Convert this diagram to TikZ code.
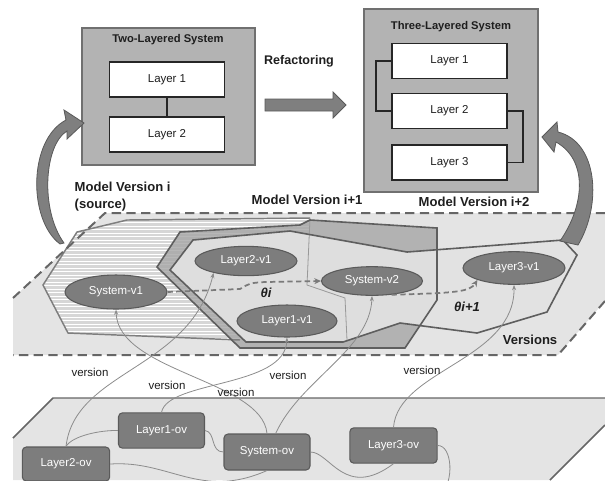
\documentclass[tikz,border=0pt]{standalone}
\usepackage{fontspec}
\setmainfont{Liberation Sans}
\usetikzlibrary{shapes.geometric,arrows.meta}
\definecolor{boxfill}{HTML}{B3B3B3}
\definecolor{boxline}{HTML}{707070}
\definecolor{planefill}{HTML}{E4E4E4}
\definecolor{planeline}{HTML}{666666}
\definecolor{hatchbg}{HTML}{D6D6D6}
\definecolor{bandfill}{HTML}{A6A6A6}
\definecolor{innerfill}{HTML}{E2E2E2}
\definecolor{polyline}{HTML}{5E5E5E}
\definecolor{ellfill}{HTML}{7D7D7D}
\definecolor{ellline}{HTML}{5A5A5A}
\definecolor{linkgray}{HTML}{8C8C8C}
\definecolor{dashgray}{HTML}{7A7A7A}
\definecolor{arrowgray}{HTML}{7F7F7F}
\definecolor{txt}{HTML}{1E1E1E}
\begin{document}
\begin{tikzpicture}[x=0.75pt,y=-0.75pt,
  every node/.style={font=\fontsize{8.6}{10}\selectfont, text=txt},
  sysbox/.style={draw=boxline, fill=boxfill, line width=1.1pt, inner sep=0},
  systitle/.style={font=\bfseries\fontsize{8.4}{10}\selectfont},
  layerbox/.style={draw=black!85, fill=white, line width=1.1pt, inner sep=0,
    minimum width=86.5pt, minimum height=26.5pt},
  ver/.style={ellipse, draw=ellline, fill=ellfill, line width=0.8pt, text=white, inner sep=0},
  ovbox/.style={rectangle, rounded corners=3pt, draw=ellline, fill=ellfill, line width=0.8pt,
    text=white, inner sep=0, minimum width=64.5pt, minimum height=26.5pt},
  verlink/.style={draw=linkgray, line width=0.6pt, -{Stealth[length=4pt,width=3pt]}},
  ovlink/.style={draw=linkgray, line width=0.6pt},
  thetalink/.style={draw=dashgray, line width=1.3pt, dash pattern=on 4pt off 2.5pt,
    -{Stealth[length=5pt,width=4.5pt]}},
  heading/.style={font=\bfseries\fontsize{9.8}{12}\selectfont},
  theta/.style={font=\bfseries\itshape\fontsize{9.8}{12}\selectfont},
  verlabel/.style={font=\fontsize{8.6}{10}\selectfont},
  bigarrow/.style={fill=arrowgray, draw=arrowgray!70!black, line width=0.6pt}
]
\useasboundingbox (0,0) rectangle (605,480);
\clip (0,0) rectangle (605,480);

% ---- planes ----
\fill[planefill] (13,298) -- (105,213) -- (605,213) -- (605,301) -- (558,355) -- (13,355) -- cycle;
\fill[planefill] (13,438) -- (53,398) -- (605,398) -- (605,425) -- (550,480) -- (13,480) -- cycle;

% ---- model version i: hatched region ----
\begin{scope}
  \clip (77,232) -- (127,220) -- (310,218) -- (307,285) -- (345,298) -- (347,340)
        -- (240,340) -- (68,333) -- (43,285) -- cycle;
  \fill[hatchbg] (30,210) rectangle (360,350);
  \foreach \yy in {212,215.5,...,346}
    \draw[white, line width=0.55pt] (30,\yy) -- (360,\yy);
\end{scope}

% ---- model version i+1: darker band ----
\fill[bandfill, opacity=0.8] (157,267) -- (180,232) -- (300,225) -- (310,220) -- (437,228)
   -- (437,300) -- (405,348) -- (240,348) -- cycle;

% ---- model version i+2 ----
\fill[innerfill, opacity=0.93] (170,270) -- (193,240) -- (290,231) -- (407,252) -- (460,248)
   -- (563,240) -- (577,255) -- (547,312) -- (477,333) -- (400,323) -- (343,342)
   -- (246,342) -- cycle;

% ---- outlines ----
\draw[polyline!80, line width=1.1pt] (310,218) -- (127,220) -- (77,232) -- (43,285)
   -- (68,333) -- (240,340);
\draw[black!40, line width=0.6pt] (310,218) -- (307,285) -- (345,298) -- (347,340);
\draw[polyline, line width=1.2pt] (157,267) -- (180,232) -- (300,225) -- (310,220) -- (437,228)
   -- (437,300) -- (405,348) -- (240,348) -- cycle;
\draw[polyline, line width=1.2pt] (170,270) -- (193,240) -- (290,231) -- (407,252) -- (460,248)
   -- (563,240) -- (577,255) -- (547,312) -- (477,333) -- (400,323) -- (343,342)
   -- (246,342) -- cycle;

% ---- plane borders ----
\draw[planeline, line width=1.5pt, dash pattern=on 7pt off 4pt]
   (13,298) -- (105,213) -- (605,213);
\draw[planeline, line width=1.5pt, dash pattern=on 7pt off 4pt]
   (605,301) -- (558,355) -- (13,355);
\draw[planeline, line width=1.1pt] (13,438) -- (53,398) -- (605,398);
\draw[planeline, line width=1.1pt] (605,425) -- (550,480);

% ---- version elements ----
\node[ver, minimum width=76.5pt, minimum height=25.5pt] (s1v1) at (116,292) {System-v1};
\node[ver, minimum width=76.5pt, minimum height=22pt] (l2v1) at (246,261) {Layer2-v1};
\node[ver, minimum width=75.75pt, minimum height=21.5pt] (s2v1) at (372,281) {System-v2};
\node[ver, minimum width=75pt, minimum height=24pt] (l1v1) at (287,321) {Layer1-v1};
\node[ver, minimum width=76.5pt, minimum height=24.5pt] (l3v1) at (514,268) {Layer3-v1};

% ---- original elements ----
\node[ovbox] (l1ov) at (161.5,430.5) {Layer1-ov};
\node[ovbox, minimum width=65.5pt, minimum height=25.5pt] (l2ov) at (66,464) {Layer2-ov};
\node[ovbox, minimum height=27pt] (sov) at (267,452) {System-ov};
\node[ovbox, minimum width=65.5pt] (l3ov) at (393.5,445.5) {Layer3-ov};
\coordinate (loopend) at (440,495);

% links between original elements
\draw[ovlink] (l2ov.north) .. controls (72,436) and (100,430) .. (l1ov.west);
\draw[ovlink] (l1ov.east) .. controls (216,432) and (210,452) .. (sov.west);
\draw[ovlink] (l2ov.east) .. controls (170,460) and (200,500) .. (sov.south);
\draw[ovlink] (sov.east) .. controls (330,452) and (345,500) .. (l3ov.south);
\draw[ovlink] (l3ov.east) .. controls (452,445) and (455,482) .. (loopend);

% version links
\draw[verlink] (l2ov.north) .. controls (75,370) and (190,370) .. (l2v1.200);
\draw[verlink] (sov.north) .. controls (262,380) and (118,372) .. (s1v1.270);
\draw[verlink] (l1ov.north) .. controls (168,380) and (285,388) .. (l1v1.270);
\draw[verlink] (sov.65) .. controls (300,380) and (370,350) .. (s2v1.270);
\draw[verlink] (l3ov.north) .. controls (398,370) and (515,360) .. (l3v1.270);

\node[verlabel] (v1) at (90,372) {version};
\node[verlabel] (v2) at (167,385) {version};
\node[verlabel] (v3) at (236,392) {version};
\node[verlabel] (v4) at (288,375) {version};
\node[verlabel] (v5) at (422,370) {version};

% evolution steps
\draw[thetalink] (s1v1.east) -- (240,289) .. controls (250,283) .. (265,282) -- (s2v1.west);
\draw[thetalink] (s2v1.-35) .. controls (455,293) and (470,292) .. (l3v1.198);
\node[theta] (th1) at (266,293) {θi};
\node[theta] (th2) at (467,307) {θi+1};

% ---- labels ----
\node[heading, anchor=west] (mvi) at (70,187) {Model Version i};
\node[heading, anchor=west] (src) at (70,205) {(source)};
\node[heading, anchor=west] (mvi1) at (247,200) {Model Version i+1};
\node[heading, anchor=west] (mvi2) at (414,202) {Model Version i+2};
\node[heading] (vers) at (530,340) {Versions};
\node[heading, font=\bfseries\fontsize{9.4}{12}\selectfont] (refac) at (299,61) {Refactoring};

% ---- two-layered system ----
\node[sysbox, minimum width=129.75pt, minimum height=102.75pt] (tls) at (168.5,96.5) {};
\node[systitle] (tlst) at (168,40) {Two-Layered System};
\node[layerbox] (a1) at (167,79.5) {Layer 1};
\node[layerbox] (a2) at (167,134.5) {Layer 2};
\draw[black!85, line width=1.1pt] (a1.south) -- (a2.north);

% ---- three-layered system ----
\node[sysbox, minimum width=130.5pt, minimum height=137.25pt] (thr) at (451,100.5) {};
\node[systitle] (thrt) at (451,27) {Three-Layered System};
\node[layerbox] (b1) at (449.5,61) {Layer 1};
\node[layerbox] (b2) at (449.5,111) {Layer 2};
\node[layerbox] (b3) at (449.5,162.5) {Layer 3};
\draw[black!85, line width=1.1pt] (b1.west) -- ++(-15,0) |- (b2.west);
\draw[black!85, line width=1.1pt] (b2.east) -- ++(15,0) |- (b3.east);

% ---- refactoring arrow ----
\draw[bigarrow] (265,99) -- (333,99) -- (333,92) -- (346,105) -- (333,118) -- (333,111)
   -- (265,111) -- cycle;

% ---- curved arrows from the version plane to the systems ----
\draw[bigarrow] (60,244) .. controls (28,220) and (28,140) .. (66,120) -- (64,110) -- (84,123)
   -- (67,139) -- (67,131) .. controls (44,145) and (40,210) .. (64,243) -- cycle;
\draw[bigarrow] (560,241) .. controls (585,205) and (588,160) .. (556,142) -- (554,152)
   -- (542,137) -- (557,122) -- (558,132) .. controls (598,142) and (602,205) .. (578,245) -- cycle;
\end{tikzpicture}
\end{document}
